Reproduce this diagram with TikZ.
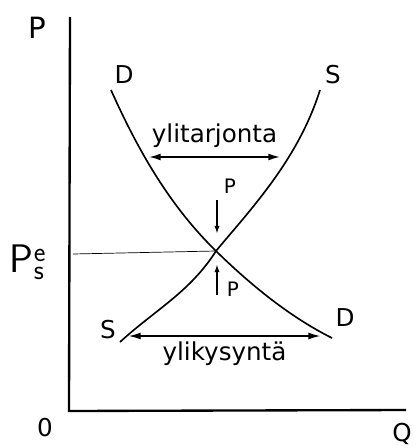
\documentclass[tikz,border=0pt]{standalone}
\usepackage{fontspec}
\setmainfont{DejaVu Sans}
\usetikzlibrary{arrows.meta,positioning,calc}

\begin{document}
\begin{tikzpicture}[x=0.03cm,y=-0.03cm,line width=1.4pt,
  lbl/.style={font=\fontsize{21}{24}\selectfont},
  gap/.style={{Latex[length=10pt,width=6pt]}-{Latex[length=10pt,width=6pt]}},
  push/.style={-{Latex[length=7pt,width=4.5pt]}}]
\useasboundingbox (0,0) rectangle (416,448);
% axes
\coordinate (o) at (69,411);
\coordinate (ptop) at (70,17);
\coordinate (qend) at (406,410);
\draw[line width=2pt] (ptop) -- (o) -- (qend);
\node[font=\fontsize{25}{28}\selectfont] (plab) at (37,28) {P};
\node[lbl] (olab) at (45,428) {0};
\node[lbl] (qlab) at (402,434) {Q};
% demand and supply
\coordinate (eq) at (216,251);
\draw (111,90) .. controls (140,155) and (172,208) .. (eq) .. controls (262,296) and (300,322) .. (332,338);
\draw (120,342) .. controls (155,310) and (190,292) .. (eq) .. controls (250,210) and (298,160) .. (320,90);
\node[lbl] (dtop) at (124,75) {D};
\node[lbl] (stop) at (333,75) {S};
\node[lbl] (sbot) at (108,330) {S};
\node[lbl] (dbot) at (345,318) {D};
% equilibrium price
\coordinate (pe) at (73,254);
\draw[line width=0.6pt] (pe) -- (eq);
\node[font=\fontsize{34}{36}\selectfont] (pelab) at (28,262) {$\mathsf{P}^{\mathsf{e}}_{\mathsf{s}}$};
% surplus and shortage
\coordinate (ta) at (149,157);
\coordinate (tb) at (280,157);
\draw[gap] (ta) -- (tb);
\node[lbl,above=4pt of {$(ta)!0.5!(tb)$}] (tarj) {ylitarjonta};
\coordinate (ka) at (129,336);
\coordinate (kb) at (320,336);
\draw[gap,line width=0.9pt] (ka) -- (kb);
\node[lbl,below=1pt of {$(ka)!0.5!(kb)$}] (kys) {ylikysyntä};
% price pressure
\coordinate (dn1) at (217,200);
\coordinate (dn2) at (217,234);
\draw[push] (dn1) -- (dn2);
\node[font=\fontsize{17}{19}\selectfont] (pdn) at (230,186) {P};
\coordinate (up1) at (217,295);
\coordinate (up2) at (217,264);
\draw[push] (up1) -- (up2);
\node[font=\fontsize{17}{19}\selectfont] (pup) at (233,289) {P};
\end{tikzpicture}
\end{document}
